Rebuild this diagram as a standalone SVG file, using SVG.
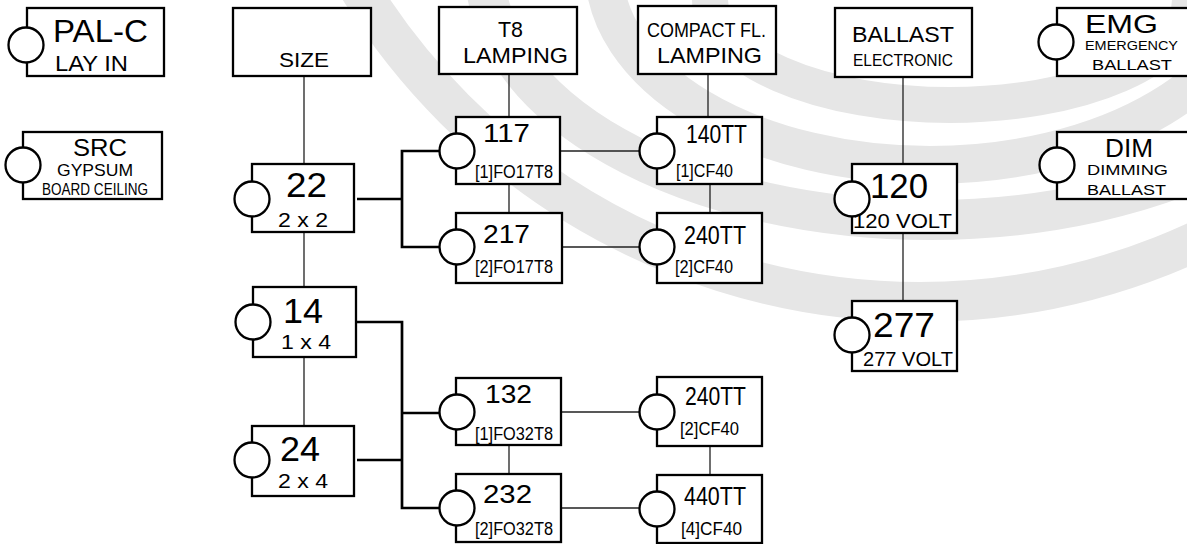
<svg xmlns="http://www.w3.org/2000/svg" width="1187" height="544" viewBox="0 0 1187 544">
<style>
.bg{fill:none;stroke:#e6e6e6}
.box{fill:#fff;stroke:#000;stroke-width:2.3}
.cir{fill:#fff;stroke:#000;stroke-width:2.3}
.ln{fill:none;stroke:#222;stroke-width:1.3}
.thk{fill:none;stroke:#000;stroke-width:2.7}
text{font-family:"Liberation Sans",Arial,Helvetica,sans-serif;fill:#000}
</style>
<rect x="0" y="0" width="1187" height="544" fill="#fff"/>
<g id="watermark">
<circle class="bg" cx="920" cy="-356" r="658" stroke-width="40"/>
<ellipse class="bg" cx="930" cy="-30" rx="445" ry="250" stroke-width="40"/>
<ellipse class="bg" cx="930" cy="-30" rx="326" ry="195" stroke-width="38"/>
<ellipse class="bg" cx="950" cy="0" rx="240" ry="105" stroke-width="36"/>
</g>
<g id="connectors">
<path class="ln" d="M304,76V164M304,232V287M304,357V426"/>
<path class="ln" d="M509,74V117M509,184V213M708,74V117M710,184V213"/>
<path class="ln" d="M560,151H640M562,247H640"/>
<path class="ln" d="M509,445V474M561,412H640M710,446V475M561,508H640"/>
<path class="ln" d="M903,77V164M903,233V301"/>
<path class="thk" d="M440,151H402V247H440M357,199H402"/>
<path class="thk" d="M357,322H402V508H440M402,413H440M357,460H402"/>
</g>
<g id="pal-c">
<rect class="box" x="27" y="8" width="137" height="68"/>
<circle class="cir" cx="26" cy="45" r="17.5"/>
<text x="53" y="42" font-size="32" textLength="95" lengthAdjust="spacingAndGlyphs">PAL-C</text>
<text x="55" y="71" font-size="22" textLength="73" lengthAdjust="spacingAndGlyphs">LAY IN</text>
</g>
<g id="src">
<rect class="box" x="23" y="132" width="139" height="67"/>
<circle class="cir" cx="23" cy="165" r="17.5"/>
<text x="73" y="156" font-size="24" textLength="54" lengthAdjust="spacingAndGlyphs">SRC</text>
<text x="57" y="176" font-size="17" textLength="76" lengthAdjust="spacingAndGlyphs">GYPSUM</text>
<text x="42" y="195" font-size="16" textLength="106" lengthAdjust="spacingAndGlyphs">BOARD CEILING</text>
</g>
<g id="size">
<rect class="box" x="233" y="8" width="138" height="68"/>
<text x="279" y="67" font-size="20" textLength="50" lengthAdjust="spacingAndGlyphs">SIZE</text>
</g>
<g id="s22">
<rect class="box" x="252" y="164" width="102" height="68"/>
<circle class="cir" cx="252" cy="199" r="17.5"/>
<text x="286" y="197" font-size="35" textLength="41" lengthAdjust="spacingAndGlyphs">22</text>
<text x="278" y="227" font-size="20" textLength="50" lengthAdjust="spacingAndGlyphs">2 x 2</text>
</g>
<g id="s14">
<rect class="box" x="253" y="287" width="103" height="70"/>
<circle class="cir" cx="253" cy="322" r="17.5"/>
<text x="283" y="323" font-size="35" textLength="40" lengthAdjust="spacingAndGlyphs">14</text>
<text x="281" y="349" font-size="20" textLength="50" lengthAdjust="spacingAndGlyphs">1 x 4</text>
</g>
<g id="s24">
<rect class="box" x="252" y="426" width="102" height="70"/>
<circle class="cir" cx="252" cy="460" r="17.5"/>
<text x="280" y="461" font-size="35" textLength="40" lengthAdjust="spacingAndGlyphs">24</text>
<text x="278" y="488" font-size="20" textLength="50" lengthAdjust="spacingAndGlyphs">2 x 4</text>
</g>
<g id="t8">
<rect class="box" x="439" y="7" width="138" height="67"/>
<text x="498" y="37" font-size="22" textLength="25" lengthAdjust="spacingAndGlyphs">T8</text>
<text x="463" y="63" font-size="22" textLength="105" lengthAdjust="spacingAndGlyphs">LAMPING</text>
</g>
<g id="l117">
<rect class="box" x="456" y="117" width="104" height="67"/>
<circle class="cir" cx="457" cy="151" r="17.5"/>
<text x="483" y="142" font-size="26" textLength="47" lengthAdjust="spacingAndGlyphs">117</text>
<text x="475" y="178" font-size="18" textLength="78" lengthAdjust="spacingAndGlyphs">[1]FO17T8</text>
</g>
<g id="l217">
<rect class="box" x="456" y="213" width="106" height="70"/>
<circle class="cir" cx="457" cy="247" r="17.5"/>
<text x="483" y="243" font-size="26" textLength="47" lengthAdjust="spacingAndGlyphs">217</text>
<text x="475" y="273" font-size="18" textLength="78" lengthAdjust="spacingAndGlyphs">[2]FO17T8</text>
</g>
<g id="l132">
<rect class="box" x="456" y="378" width="105" height="67"/>
<circle class="cir" cx="457" cy="412" r="17.5"/>
<text x="485" y="403" font-size="26" textLength="47" lengthAdjust="spacingAndGlyphs">132</text>
<text x="475" y="440" font-size="18" textLength="78" lengthAdjust="spacingAndGlyphs">[1]FO32T8</text>
</g>
<g id="l232">
<rect class="box" x="456" y="474" width="105" height="68"/>
<circle class="cir" cx="457" cy="508" r="17.5"/>
<text x="483" y="503" font-size="26" textLength="49" lengthAdjust="spacingAndGlyphs">232</text>
<text x="475" y="535" font-size="18" textLength="78" lengthAdjust="spacingAndGlyphs">[2]FO32T8</text>
</g>
<g id="compact">
<rect class="box" x="638" y="6" width="138" height="68"/>
<text x="647" y="37" font-size="20" textLength="119" lengthAdjust="spacingAndGlyphs">COMPACT FL.</text>
<text x="657" y="63" font-size="22" textLength="105" lengthAdjust="spacingAndGlyphs">LAMPING</text>
</g>
<g id="c140">
<rect class="box" x="657" y="117" width="105" height="67"/>
<circle class="cir" cx="657" cy="151" r="17.5"/>
<text x="686" y="143" font-size="26" textLength="61" lengthAdjust="spacingAndGlyphs">140TT</text>
<text x="676" y="177" font-size="18" textLength="57" lengthAdjust="spacingAndGlyphs">[1]CF40</text>
</g>
<g id="c240a">
<rect class="box" x="657" y="213" width="105" height="70"/>
<circle class="cir" cx="657" cy="247" r="17.5"/>
<text x="684" y="244" font-size="26" textLength="62" lengthAdjust="spacingAndGlyphs">240TT</text>
<text x="675" y="273" font-size="18" textLength="58" lengthAdjust="spacingAndGlyphs">[2]CF40</text>
</g>
<g id="c240b">
<rect class="box" x="657" y="377" width="105" height="69"/>
<circle class="cir" cx="657" cy="412" r="17.5"/>
<text x="685" y="405" font-size="26" textLength="61" lengthAdjust="spacingAndGlyphs">240TT</text>
<text x="680" y="435" font-size="18" textLength="59" lengthAdjust="spacingAndGlyphs">[2]CF40</text>
</g>
<g id="c440">
<rect class="box" x="657" y="475" width="105" height="68"/>
<circle class="cir" cx="657" cy="509" r="17.5"/>
<text x="684" y="505" font-size="26" textLength="62" lengthAdjust="spacingAndGlyphs">440TT</text>
<text x="681" y="535" font-size="18" textLength="61" lengthAdjust="spacingAndGlyphs">[4]CF40</text>
</g>
<g id="ballast">
<rect class="box" x="835" y="8" width="137" height="69"/>
<text x="852" y="42" font-size="22" textLength="102" lengthAdjust="spacingAndGlyphs">BALLAST</text>
<text x="853" y="66" font-size="16" textLength="100" lengthAdjust="spacingAndGlyphs">ELECTRONIC</text>
</g>
<g id="v120">
<rect class="box" x="852" y="164" width="105" height="69"/>
<circle class="cir" cx="852" cy="199" r="17.5"/>
<text x="870" y="198" font-size="35" textLength="58" lengthAdjust="spacingAndGlyphs">120</text>
<text x="853" y="228" font-size="21" textLength="99" lengthAdjust="spacingAndGlyphs">120 VOLT</text>
</g>
<g id="v277">
<rect class="box" x="852" y="301" width="105" height="70"/>
<circle class="cir" cx="852" cy="335" r="17.5"/>
<text x="873" y="337" font-size="35" textLength="62" lengthAdjust="spacingAndGlyphs">277</text>
<text x="863" y="366" font-size="21" textLength="90" lengthAdjust="spacingAndGlyphs">277 VOLT</text>
</g>
<g id="emg">
<rect class="box" x="1057" y="8" width="135" height="68"/>
<circle class="cir" cx="1056" cy="42" r="17.5"/>
<text x="1085" y="33" font-size="26" textLength="73" lengthAdjust="spacingAndGlyphs">EMG</text>
<text x="1085" y="50" font-size="13" textLength="93" lengthAdjust="spacingAndGlyphs">EMERGENCY</text>
<text x="1092" y="70" font-size="15" textLength="80" lengthAdjust="spacingAndGlyphs">BALLAST</text>
</g>
<g id="dim">
<rect class="box" x="1057" y="132" width="135" height="67"/>
<circle class="cir" cx="1057" cy="165" r="17.5"/>
<text x="1105" y="157" font-size="26" textLength="48" lengthAdjust="spacingAndGlyphs">DIM</text>
<text x="1087" y="175" font-size="14" textLength="81" lengthAdjust="spacingAndGlyphs">DIMMING</text>
<text x="1087" y="195" font-size="15" textLength="79" lengthAdjust="spacingAndGlyphs">BALLAST</text>
</g>
</svg>
